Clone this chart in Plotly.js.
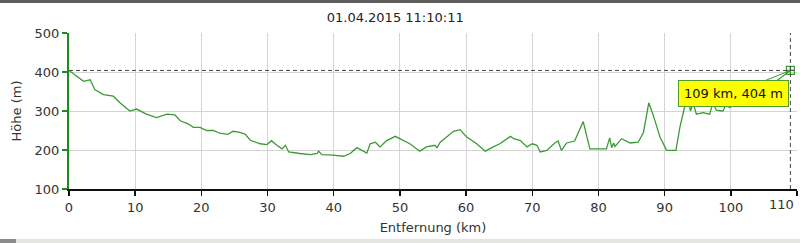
<!DOCTYPE html>
<html>
<head>
<meta charset="utf-8">
<script src="https://cdn.plot.ly/plotly-3.0.1.min.js"></script>
<style>
html,body{margin:0;padding:0;background:#fff;overflow:hidden;}
#chart{width:800px;height:243px;position:absolute;left:0;top:0;}
#topbar{position:absolute;left:0;top:0;width:800px;height:3px;background:#5e5e5e;z-index:5;}
#botbar{position:absolute;left:0;top:239px;width:800px;height:4px;background:#e4e4e0;z-index:5;}
#botmark{position:absolute;left:0;top:239px;width:16px;height:4px;background:#8a8a8a;z-index:6;}
</style>
</head>
<body>
<div id="chart"></div>
<div id="topbar"></div>
<div id="botbar"></div>
<div id="botmark"></div>
<script>
const titleText = "01.04.2015 11:10:11";
const xTitle = "Entfernung (km)";
const yTitle = "Höhe (m)";
const xTicks = [0,10,20,30,40,50,60,70,80,90,100,110];
const yTicks = [100,200,300,400,500];

const distanceKm = [0,0.5,1.2,2.2,3.2,3.9,5.2,6.7,7.7,9.2,10.2,11.7,13.2,14.8,16,16.8,18,18.8,19.8,20.8,21.8,22.8,24,24.8,25.8,26.6,27.4,28.9,29.9,30.6,31.4,32.2,32.7,33.2,34.9,36.5,37.5,37.7,38.2,39.9,41.5,42.5,43.5,44,45,45.5,46.3,47,48,49.3,50,51.5,53,54,55.3,55.6,56.1,58.1,59.1,60.1,61.6,62.9,64.1,65.1,66.7,67.2,68.2,69.2,70,70.7,71.2,72.2,73.4,73.9,74.4,75.2,76.4,77.2,77.7,78.7,81.2,81.7,82,82.3,82.5,83.5,84.8,86,86.8,87.6,88.3,89.3,90.3,91.7,92.3,93,93.5,93.9,94.3,94.8,95.8,96.8,97.3,97.8,98.8,99.3,99.8,101,102.5,104,105.5,107,108.2,109];
const elevationM = [404,398,389,376,380,355,342,338,321,300,305,292,283,292,290,275,267,258,258,250,250,243,240,248,245,241,225,216,214,224,212,203,212,195,191,188,191,197,188,187,184,191,206,201,192,216,220,208,224,235,229,216,197,208,212,206,220,248,252,233,216,197,208,216,235,229,224,208,216,212,195,199,218,223,199,218,223,254,273,203,203,231,206,218,209,229,218,220,245,321,288,233,199,199,258,309,342,300,321,292,296,292,321,302,300,317,309,318,330,345,360,378,394,404];

const markKm = [109];
const markM = [404];
const markLabel = "109 km, 404 m";

const fam = "DejaVu Sans, Verdana, sans-serif";
const font = {family: fam, size: 13, color: "#333"};
const lastTick = xTicks[xTicks.length - 1];

const traces = [
  {x: distanceKm, y: elevationM, mode: "lines", type: "scatter",
   line: {color: "#3c9a34", width: 1.3}, hoverinfo: "skip", showlegend: false},
  {x: markKm, y: markM, mode: "markers", type: "scatter",
   marker: {symbol: "square-cross-open", size: 8, color: "#3c9a34", line: {width: 1.2}},
   hoverinfo: "skip", showlegend: false, cliponaxis: false}
];

const layout = {
  width: 800, height: 243,
  margin: {l: 69, r: 3, t: 33, b: 53.5, pad: 0},
  paper_bgcolor: "#ffffff", plot_bgcolor: "#ffffff",
  font: font,
  title: {text: titleText, font: {family: fam, size: 13, color: "#222"},
          x: 0.494, xanchor: "center", xref: "container", y: 1 - 17/243, yanchor: "middle", yref: "container"},
  xaxis: {range: [0, 110], tickvals: xTicks, ticktext: xTicks.map(v => v === lastTick ? "" : String(v)),
          showgrid: true, gridcolor: "#d4d4d4", gridwidth: 1, zeroline: false,
          showline: true, linecolor: "#111", linewidth: 2,
          ticks: "outside", ticklen: 5, tickcolor: "#111", tickwidth: 1.5,
          tickfont: font, fixedrange: true,
          title: {text: xTitle, font: font, standoff: 9}},
  yaxis: {range: [100, 500], tickvals: yTicks, ticktext: yTicks.map(String),
          showgrid: true, gridcolor: "#d4d4d4", gridwidth: 1, zeroline: false,
          showline: true, linecolor: "#1f8a1f", linewidth: 2,
          ticks: "outside", ticklen: 5, tickcolor: "#1f8a1f", tickwidth: 1.5,
          tickfont: font, fixedrange: true,
          title: {text: yTitle, font: font, standoff: 10}},
  shapes: [
    {type: "line", xref: "x", yref: "y", x0: 0, x1: 110, y0: markM[0], y1: markM[0],
     line: {color: "#444", width: 1, dash: "4px,3px"}},
    {type: "line", xref: "x", yref: "y", x0: markKm[0], x1: markKm[0], y0: 100, y1: 500,
     line: {color: "#444", width: 1, dash: "4px,3px"}}
  ],
  annotations: [
    {x: markKm[0], y: markM[0], xref: "x", yref: "y", text: markLabel,
     showarrow: true, arrowhead: 0, arrowwidth: 1, arrowcolor: "#3c9a34",
     ax: -57, ay: 23, bgcolor: "#ffff00", bordercolor: "#4f9a2a", borderwidth: 1, borderpad: 5,
     font: {family: fam, size: 13, color: "#111"}},
    {x: lastTick, y: 0, xref: "x", yref: "paper", text: String(lastTick), showarrow: false,
     xanchor: "right", yanchor: "top", xshift: -1, yshift: -6, font: font}
  ]
};

Plotly.newPlot("chart", traces, layout, {staticPlot: true, displayModeBar: false});
</script>
</body>
</html>
